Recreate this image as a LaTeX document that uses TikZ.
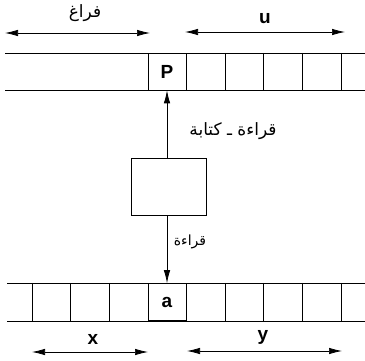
\documentclass[tikz,border=0pt]{standalone}
\usepackage{fontspec}
\setmainfont{Liberation Sans}
\newfontfamily\arabicfont[Script=Arabic]{DejaVu Sans}
\TeXXeTstate=1
\usetikzlibrary{arrows.meta}
\begin{document}
\begin{tikzpicture}[x=1pt,y=-1pt,
  line width=0.8pt,
  tape/.style={line width=0.7pt},
  cell/.style={draw,line width=0.7pt,minimum width=38pt,minimum height=37pt,inner sep=0pt,font=\fontsize{19}{19}\selectfont\bfseries},
  span/.style={{Latex[length=13pt,width=6.5pt]}-{Latex[length=13pt,width=6.5pt]},line width=0.7pt},
  lbl/.style={font=\fontsize{19}{19}\selectfont\bfseries},
  ar/.style={font=\arabicfont\fontsize{17}{17}\selectfont},
  ars/.style={font=\arabicfont\fontsize{14}{14}\selectfont},
  head/.style={draw,line width=0.8pt,minimum width=75pt,minimum height=57pt,inner sep=0pt},
  rw/.style={-{Latex[length=13pt,width=6.5pt]},line width=0.8pt}]
\useasboundingbox (0,0) rectangle (365,361);
% top tape
\draw[tape] (5,53) -- (365,53) (5,90) -- (365,90);
\foreach \x in {225,263,302,341} \draw[tape] (\x,53) -- (\x,90);
\node[cell] (P) at (167,71.5) {P};
% bottom tape
\draw[tape] (7,283) -- (365,283) (7,321) -- (365,321);
\foreach \x in {32,70,109,225,263,302,341} \draw[tape] (\x,283) -- (\x,321);
\node[cell] (A) at (167,302) {a};
% head box
\node[head] (H) at (168.5,186.5) {};
% connectors
\draw[rw] (H.north -| P.south) -- (P.south);
\draw[rw] (H.south -| A.north) -- (A.north);
% labels of connectors
\node[ar] (rwl) at (233,131) {\beginR قراءة ـ كتابة\endR};
\node[ars] (rl) at (190,242) {\beginR قراءة\endR};
% top spans
\coordinate (t1) at (5,33); \coordinate (t2) at (150,33);
\coordinate (t3) at (185,32); \coordinate (t4) at (345,32);
\draw[span] (t1) -- (t2);
\draw[span] (t3) -- (t4);
\node[ar] (free) at (85,13) {\beginR فراغ\endR};
\node[lbl] (u) at (265,19) {u};
% bottom spans
\coordinate (b1) at (32,352); \coordinate (b2) at (148,352);
\coordinate (b3) at (187,351); \coordinate (b4) at (342,351);
\draw[span] (b1) -- (b2);
\draw[span] (b3) -- (b4);
\node[lbl] (xl) at (93,339) {x};
\node[lbl] (yl) at (263,337) {y};
\end{tikzpicture}
\end{document}
